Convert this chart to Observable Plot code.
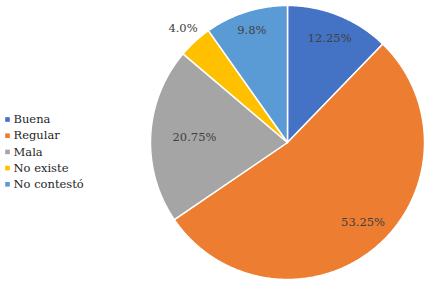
<!DOCTYPE html>
<html><head><meta charset="utf-8">
<script src="https://cdn.jsdelivr.net/npm/d3@7"></script>
<script src="https://cdn.jsdelivr.net/npm/@observablehq/plot@0.6"></script>
<style>body{margin:0;background:#fff}</style>
</head><body><div id="chart"></div>
<script>
const categories = ["Buena", "Regular", "Mala", "No existe", "No contestó"];
const values = [12.25, 53.25, 20.75, 4.0, 9.8];
const labels = ["12.25%", "53.25%", "20.75%", "4.0%", "9.8%"];
const colors = ["#4472C4", "#ED7D31", "#A5A5A5", "#FFC000", "#5B9BD5"];

// layout
const W = 431, H = 285, cx = 287, cy = 142, R = 137;
const labelRadius = [0.82, 0.80, 0.68, 1.13, 0.86];
const labelAngleShift = [0, -0.06, 0, 0, 0];
const font = "DejaVu Serif";

const data = categories.map((c, i) => ({category: c, value: values[i], label: labels[i], i}));
const arcs = d3.pie().sort(null).value(d => d.value)(data);

const polys = [];
arcs.forEach(a => {
  polys.push({category: a.data.category, x: cx, y: cy});
  const n = Math.max(2, Math.ceil((a.endAngle - a.startAngle) / 0.01));
  for (let k = 0; k <= n; k++) {
    const t = a.startAngle + (a.endAngle - a.startAngle) * k / n;
    polys.push({category: a.data.category, x: cx + R * Math.sin(t), y: cy - R * Math.cos(t)});
  }
  polys.push({category: a.data.category, x: cx, y: cy});
});
const labelPts = arcs.map(a => {
  const m = (a.startAngle + a.endAngle) / 2 + labelAngleShift[a.data.i], r = R * labelRadius[a.data.i];
  return {label: a.data.label, x: cx + r * Math.sin(m), y: cy - r * Math.cos(m)};
});
const legend = data.map((d, i) => ({category: d.category, x: 7, y: 119 + i * 16.2}));

const chart = Plot.plot({
  width: W, height: H,
  margin: 0,
  x: {domain: [0, W], range: [0, W], axis: null},
  y: {domain: [0, H], range: [0, H], axis: null},
  color: {domain: categories, range: colors},
  style: {background: "#fff", fontFamily: "DejaVu Serif"},
  marks: [
    Plot.line(polys, {x: "x", y: "y", z: "category", fill: "category", stroke: "#fff", strokeWidth: 1.5, curve: "linear"}),
    Plot.text(labelPts, {x: "x", y: "y", text: "label", fill: "#404040", fontSize: 11.5, fontFamily: font}),
    Plot.dot(legend, {x: "x", y: "y", fill: "category", symbol: "square", r: 2.6}),
    Plot.text(legend, {x: d => d.x + 6, y: "y", text: "category", textAnchor: "start", fill: "#1f1f1f", fontSize: 11.5, fontFamily: font})
  ]
});
document.getElementById("chart").append(chart);
</script></body></html>
